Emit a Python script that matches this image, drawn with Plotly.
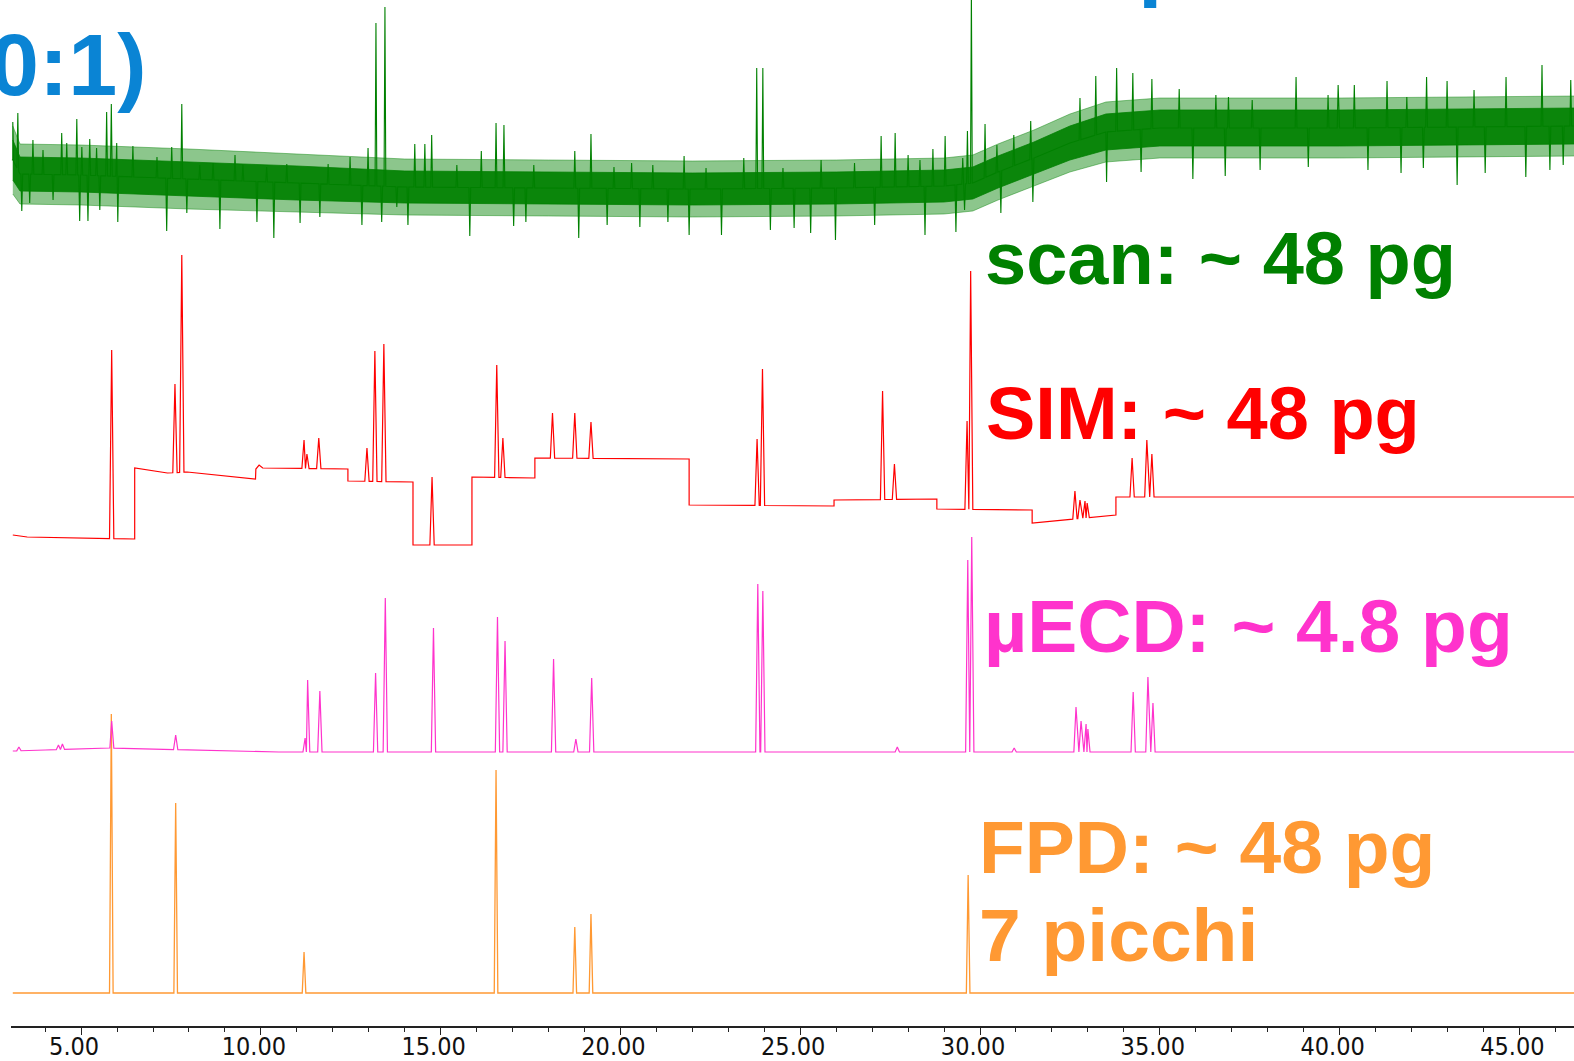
import numpy as np
import plotly.graph_objects as go

# ---------------- DATA ----------------
# retention time axis (min)
x_range = [3.05, 46.52]
tick_vals = [5, 10, 15, 20, 25, 30, 35, 40, 45]
tick_text = ["5.00", "10.00", "15.00", "20.00", "25.00", "30.00", "35.00", "40.00", "45.00"]

# ---- FPD (orange), arbitrary units ----
fpd_base_t = [3.10, 46.60]
fpd_base_v = [0, 0]
fpd_peak_t = [5.84, 7.63, 11.20, 16.54, 18.73, 19.18, 29.67]
fpd_peak_v = [279, 190, 41, 223, 66, 79, 118]

# ---- uECD (magenta) ----
ecd_base_t = [3.10, 4.00, 5.80, 8.00, 10.50, 46.60]
ecd_base_v = [9, 10, 12, 10, 8, 8]
ecd_peak_t = [3.27, 4.37, 4.48, 5.85, 7.63, 11.23, 11.30, 11.64, 13.19, 13.46, 14.80,
              16.58, 16.79, 18.14, 18.76, 19.20, 23.82, 23.96, 27.70, 29.66, 29.77,
              30.95, 32.67, 32.81, 32.95, 33.00, 34.26, 34.67, 34.81]
ecd_peak_v = [13, 15, 16, 39, 25, 22, 80, 69, 87, 162, 132,
              143, 119, 101, 21, 82, 176, 169, 13, 200, 223,
              12, 53, 39, 36, 31, 68, 83, 57]

# ---- SIM (red) : stepped baseline (time windows) ----
sim_base_t = [3.10, 3.50, 6.49, 6.49, 7.40, 7.95, 9.85, 9.86, 9.95, 10.05, 12.42, 12.42,
              14.23, 14.23, 15.87, 15.87, 17.62, 17.62, 21.91, 21.91, 25.94, 25.94,
              28.80, 28.80, 31.45, 31.45, 33.78, 33.78, 46.60]
sim_base_v = [10, 8, 6, 77, 72, 73, 66, 76, 80, 77, 76, 64,
              63, 0, 0, 68, 67, 87, 86, 40, 39, 45,
              46, 36, 35, 22, 30, 48, 48]
sim_peak_t = [5.85, 7.61, 7.80, 11.20, 11.28, 11.61, 12.95, 13.17, 13.42, 14.76,
              16.56, 16.73, 18.11, 18.73, 19.18, 23.80, 23.95, 27.29, 27.62, 29.64,
              29.74, 32.64, 32.78, 32.92, 32.98, 34.23, 34.64, 34.78]
sim_peak_v = [195, 161, 290, 105, 91, 107, 97, 194, 201, 68,
              180, 107, 132, 132, 123, 106, 176, 154, 81, 124,
              274, 54, 45, 44, 42, 87, 105, 91]

# ---- scan (green): noisy baseline = centre level, dense-noise half band, full-noise half band ----
scan_base_t = [3.10, 3.30, 5.0, 8.0, 11.0, 14.0, 18.0, 22.0, 26.0, 29.0, 29.8, 30.5,
               31.5, 32.5, 33.5, 35.0, 40.0, 46.6]
scan_base_v = [80, 66, 65, 61, 57, 53, 52, 51, 52, 54, 57, 68,
               82, 97, 108, 112, 112, 114]
scan_noise = [20, 17, 17, 17, 17, 16, 16, 16, 16, 16, 16, 16,
              16, 17, 18, 18, 18, 18]
scan_noise_max = [34, 30, 30, 30, 29, 28, 28, 28, 28, 28, 28, 28,
                  28, 29, 30, 30, 30, 30]
# spikes / peaks rising above the noise band (tip values)
scan_up_t = [3.10, 3.24, 3.66, 3.94, 4.46, 4.60, 4.88, 5.02, 5.24, 5.43, 5.71, 5.84,
             5.99, 6.44, 7.11, 7.52, 7.80, 8.30, 8.67, 9.28, 9.50, 10.16, 10.72,
             11.87, 12.48, 12.98, 13.20, 13.45, 14.28, 14.56, 14.75, 15.45, 16.13,
             16.54, 16.76, 17.59, 18.73, 19.18, 19.82, 20.31, 20.90, 21.77, 22.38,
             23.43, 23.79, 23.96, 24.52, 25.58, 26.51, 27.25, 27.64, 28.00, 28.33,
             28.69, 29.03, 29.52, 29.65, 29.76, 30.14, 30.47, 30.94, 31.41, 32.78,
             33.22, 33.80, 34.25, 34.78, 35.54, 36.56, 36.91, 37.57, 38.79, 39.68,
             39.96, 40.41, 41.32, 41.87, 42.42, 42.99, 43.74, 44.63, 45.63, 46.43]
scan_up_v = [118, 127, 100, 90, 107, 97, 121, 93, 101, 92, 128, 136,
             97, 94, 83, 93, 136, 75, 77, 85, 75, 73, 76,
             76, 83, 92, 217, 233, 96, 96, 105, 75, 89,
             117, 115, 75, 89, 106, 73, 77, 75, 84, 72,
             82, 172, 172, 72, 80, 77, 104, 107, 85, 80,
             91, 104, 82, 109, 250, 116, 95, 105, 119, 142,
             164, 172, 167, 161, 151, 145, 143, 140, 163, 145,
             155, 155, 159, 143, 163, 159, 150, 163, 175, 160]
# spikes dipping below the noise band
scan_dn_t = [3.35, 3.57, 4.22, 4.96, 5.19, 5.52, 6.02, 7.38, 7.94, 8.86, 9.89, 10.36,
             11.09, 11.64, 12.81, 13.36, 13.78, 14.09, 15.81, 17.03, 17.37, 18.84,
             19.63, 20.54, 21.32, 21.91, 22.81, 24.17, 24.83, 25.29, 25.98, 27.07,
             28.47, 29.33, 29.57, 30.58, 31.47, 33.52, 34.48, 35.92, 36.82, 37.79,
             39.13, 40.79, 41.71, 42.33, 43.27, 44.05, 45.18, 45.85, 46.22]
scan_dn_v = [29, 37, 40, 19, 19, 30, 18, 9, 27, 11, 18, 2,
             17, 23, 15, 18, 33, 15, 4, 14, 18, 2,
             15, 13, 18, 5, 5, 10, 12, 7, 0, 15,
             5, 8, 30, 27, 38, 58, 68, 61, 64, 70,
             73, 70, 67, 72, 55, 67, 63, 70, 75]

# labels
label_scan = "scan: ~ 48 pg"
label_sim = "SIM: ~ 48 pg"
label_ecd = "µECD: ~ 4.8 pg"
label_fpd = "FPD: ~ 48 pg"
label_fpd2 = "7 picchi"
title_tail = "0:1)"

# ---------------- STYLE ----------------
GREEN = "#008000"
RED = "#FF0000"
MAGENTA = "#FF33CC"
ORANGE = "#FF9933"
BLUE = "#0A84D4"
W, H = 1574, 1061
ML, MR, MT, MB = 11, 0, 0, 35
PH = H - MT - MB
PW = W - ML - MR
BOLD = "Liberation Sans, Arial, sans-serif"


def build(base_t, base_v, peak_t, peak_v, hw):
    pts = [(t, v) for t, v in zip(base_t, base_v)]
    n = len(peak_t)
    for i, (t, v) in enumerate(zip(peak_t, peak_v)):
        lo = t - hw if i == 0 else max(t - hw, (peak_t[i - 1] + t) / 2)
        hi = t + hw if i == n - 1 else min(t + hw, (t + peak_t[i + 1]) / 2)
        pts.append((lo, float(np.interp(lo, base_t, base_v))))
        pts.append((t, v))
        pts.append((hi, float(np.interp(hi, base_t, base_v))))
    pts.sort(key=lambda p: p[0])
    return [p[0] for p in pts], [p[1] for p in pts]


fig = go.Figure()

# orange (bottom layer)
fx, fy = build(fpd_base_t, fpd_base_v, fpd_peak_t, fpd_peak_v, 0.05)
fig.add_trace(go.Scatter(x=fx, y=fy, mode="lines", line=dict(color=ORANGE, width=1.3),
                         yaxis="y", hoverinfo="skip"))
# magenta
ex, ey = build(ecd_base_t, ecd_base_v, ecd_peak_t, ecd_peak_v, 0.06)
fig.add_trace(go.Scatter(x=ex, y=ey, mode="lines", line=dict(color=MAGENTA, width=1.2),
                         yaxis="y2", hoverinfo="skip"))
# red
sx, sy = build(sim_base_t, sim_base_v, sim_peak_t, sim_peak_v, 0.06)
fig.add_trace(go.Scatter(x=sx, y=sy, mode="lines", line=dict(color=RED, width=1.2),
                         yaxis="y3", hoverinfo="skip"))


# green: outer (sparse) noise band, dense core band, spikes
def band(half, fillcol, edgecol):
    lo_v = [b - n for b, n in zip(scan_base_v, half)]
    hi_v = [b + n for b, n in zip(scan_base_v, half)]
    fig.add_trace(go.Scatter(x=scan_base_t, y=lo_v, mode="lines",
                             line=dict(color=edgecol, width=0.8),
                             yaxis="y4", hoverinfo="skip"))
    fig.add_trace(go.Scatter(x=scan_base_t, y=hi_v, mode="lines",
                             line=dict(color=edgecol, width=0.8),
                             fill="tonexty", fillcolor=fillcol,
                             yaxis="y4", hoverinfo="skip"))


band(scan_noise_max, "rgba(0,128,0,0.45)", "rgba(0,128,0,0.55)")
band(scan_noise, "rgba(0,128,0,0.92)", "rgba(0,128,0,0.95)")
spk = sorted(zip(scan_up_t + scan_dn_t, scan_up_v + scan_dn_v))
gx, gy = build(scan_base_t, scan_base_v, [p[0] for p in spk], [p[1] for p in spk], 0.025)
fig.add_trace(go.Scatter(x=gx, y=gy, mode="lines", line=dict(color=GREEN, width=1.1),
                         yaxis="y4", hoverinfo="skip"))


def yr(ref_px):
    # value 0 of a trace sits ref_px below the top of the plot area (1 unit = 1 px)
    return [ref_px - PH, ref_px]


def ann(text, left_px, base_px, size, color):
    return dict(text="<b>%s</b>" % text, xref="paper", yref="paper",
                x=(left_px - ML) / PW, y=1 - (base_px + 0.212 * size - MT) / PH,
                xanchor="left", yanchor="bottom", showarrow=False, borderpad=0,
                font=dict(family=BOLD, size=size, color=color))


annotations = [
    ann(label_scan, 984, 285, 74, GREEN),
    ann(label_sim, 985, 440, 74, RED),
    ann(label_ecd, 983, 653, 75, MAGENTA),
    ann(label_fpd, 978, 874, 75, ORANGE),
    ann(label_fpd2, 978, 962, 75, ORANGE),
    ann(title_tail, -11, 96, 88, BLUE),
    ann("p", 1137, -9, 88, BLUE),
]

fig.update_layout(
    width=W, height=H, margin=dict(l=ML, r=MR, t=MT, b=MB, pad=0, autoexpand=False),
    paper_bgcolor="white", plot_bgcolor="white", showlegend=False,
    xaxis=dict(range=x_range, showgrid=False, zeroline=False, showline=True,
               automargin=False,
               linecolor="#222222", linewidth=1.5, ticks="outside", ticklen=7,
               tickwidth=1, tickcolor="#222222", tickvals=tick_vals, ticktext=tick_text,
               tickfont=dict(family="Liberation Sans Narrow, Arial Narrow, DejaVu Sans Condensed, sans-serif",
                             size=25, color="#111111"),
               ticklabelshift=-7, ticklabelstandoff=-10,
               minor=dict(dtick=1, tick0=0, ticks="outside", ticklen=4,
                          tickcolor="#222222", tickwidth=1, showgrid=False),
               fixedrange=True),
    yaxis=dict(range=yr(993), visible=False, fixedrange=True),
    yaxis2=dict(range=yr(760), visible=False, overlaying="y", fixedrange=True),
    yaxis3=dict(range=yr(545), visible=False, overlaying="y", fixedrange=True),
    yaxis4=dict(range=yr(240), visible=False, overlaying="y", fixedrange=True),
    annotations=annotations,
)

fig.write_html("out.html", config={"displayModeBar": False},
               post_script="document.body.style.margin='0px';")
